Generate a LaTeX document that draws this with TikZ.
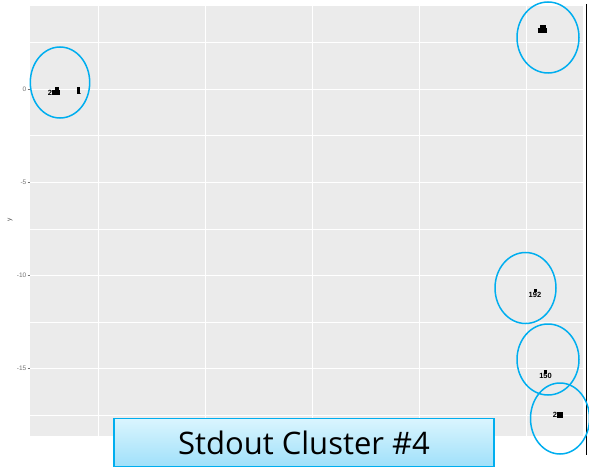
\documentclass[tikz,border=0pt]{standalone}
\usepackage{fontspec}
\setmainfont{Open Sans}
\newfontfamily\axisfont{Liberation Sans}
\definecolor{ringblue}{RGB}{0,174,239}
\definecolor{boxtop}{RGB}{218,245,254}
\definecolor{boxbottom}{RGB}{160,224,250}
\definecolor{panelgrey}{RGB}{235,235,235}
\begin{document}
\begin{tikzpicture}[x=1pt,y=-1pt,
  panel/.style={fill=panelgrey,draw=none},
  majorgrid/.style={draw=white,line width=0.8pt},
  minorgrid/.style={draw=white,line width=0.45pt},
  tickmark/.style={draw=black!55,line width=0.5pt},
  ticklabel/.style={font=\axisfont\fontsize{6.5}{7}\selectfont,text=black!55,anchor=east,inner sep=1pt},
  ring/.style={draw=ringblue,line width=1.5pt},
  pt/.style={font=\axisfont\bfseries\fontsize{7.5}{7.5}\selectfont,inner sep=0pt},
  titlebox/.style={draw=ringblue,line width=1.2pt,top color=boxtop,bottom color=boxbottom,
    minimum width=380pt,minimum height=48pt,inner sep=0pt,
    font=\fontsize{31}{34}\selectfont}]
\useasboundingbox (0,0) rectangle (589,468);
\fill[white] (0,0) rectangle (589,468);
% plotting panel
\path[panel] (30,6) rectangle (583,436);
% horizontal grid
\foreach \yy in {42,135,229,322,415} \draw[minorgrid] (30,\yy) -- (583,\yy);
\foreach \yy in {89,182,275,368} \draw[majorgrid] (30,\yy) -- (583,\yy);
% vertical grid
\foreach \xx in {98,312,526} \draw[majorgrid] (\xx,6) -- (\xx,436);
\foreach \xx in {205,419} \draw[minorgrid] (\xx,6) -- (\xx,436);
% right frame line
\draw[black,line width=1pt] (586,4) -- (586,455);
% y axis
\foreach \yy/\lab in {89/0,182/-5,275/-10,368/-15}{
  \draw[tickmark] (27.5,\yy) -- (30,\yy);
  \node[ticklabel] at (27.5,\yy) {\lab};
}
\node[font=\axisfont\fontsize{6.5}{7}\selectfont,text=black!70,rotate=90] (ylab) at (10,220) {y};
% point labels
\node[pt] (a1) at (50,92.5) {2};
\node[pt] (a2) at (56,92.5) {\rule{9pt}{5pt}};
\node[pt] (a3) at (57,90.5) {\rule{4pt}{7pt}};
\node[pt] (a4) at (79,92) {1};
\node[pt] (a5) at (78,90.5) {\rule{3pt}{7pt}};
\node[pt] (b1) at (542,31) {\rule{9pt}{5pt}};
\node[pt] (b2) at (543,28.5) {\rule{6pt}{7pt}};
\node[pt] (c1) at (535,294.5) {192};
\node[pt] (c2) at (535,290.5) {\rule{3pt}{3.5pt}};
\node[pt] (d1) at (545.5,375.5) {150};
\node[pt] (d2) at (545.5,372) {\rule{3.5pt}{4pt}};
\node[pt] (e1) at (555,415) {2};
\node[pt] (e2) at (560,414.5) {\rule{6pt}{6pt}};
% cluster rings
\draw[ring] (60,82.5) ellipse [x radius=29.7,y radius=35.5];
\draw[ring] (548,37.5) ellipse [x radius=31,y radius=35.5];
\draw[ring] (525.5,288) ellipse [x radius=30.5,y radius=35.5];
\draw[ring] (548,359.5) ellipse [x radius=31,y radius=35.5];
\draw[ring] (560,418.5) ellipse [x radius=29.5,y radius=35.5];
% caption
\node[titlebox] (title) at (304,442.5) {Stdout Cluster \#4};
\end{tikzpicture}
\end{document}
